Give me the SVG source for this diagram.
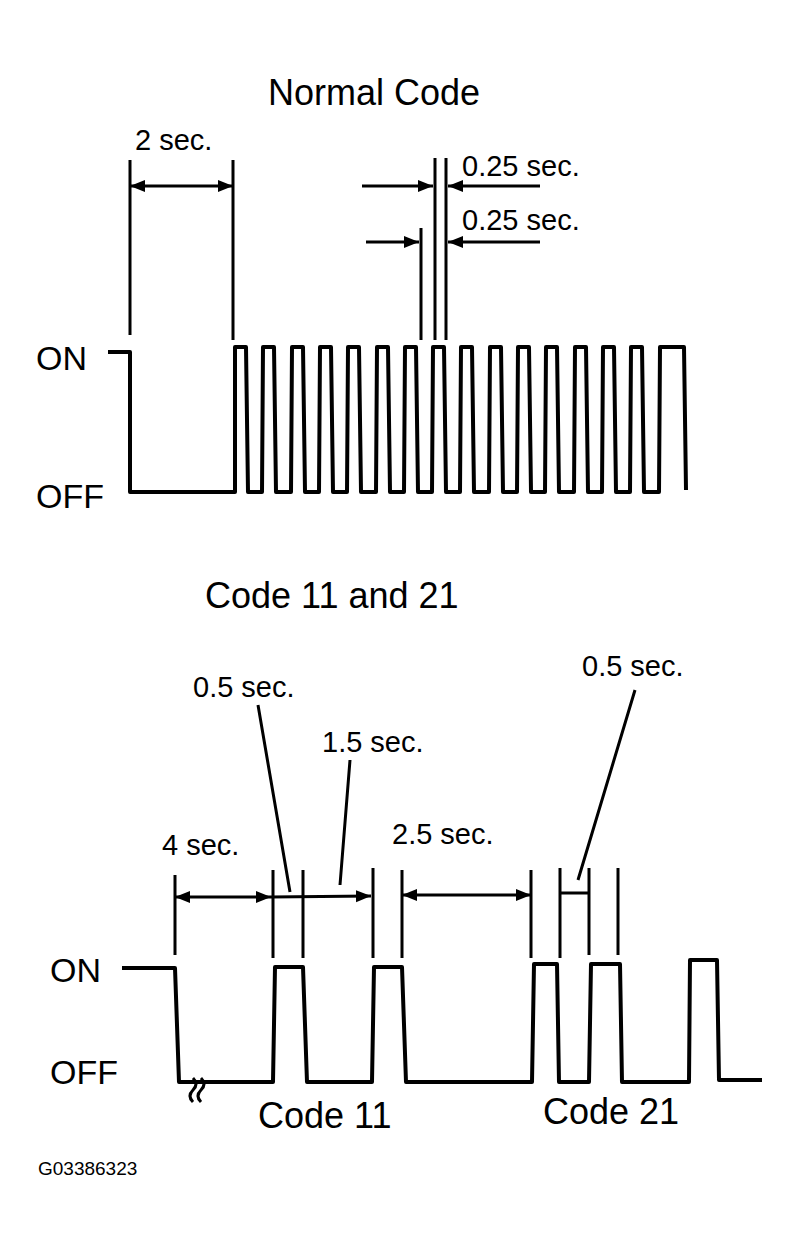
<svg xmlns="http://www.w3.org/2000/svg" width="800" height="1251" viewBox="0 0 800 1251">
<style>
text{font-family:"Liberation Sans",Arial,sans-serif;fill:#000;font-weight:500}
.t{font-size:36px}.l{font-size:34px}.d{font-size:29px}
.w{fill:none;stroke:#000;stroke-width:4;stroke-linejoin:round}
.e{fill:none;stroke:#000;stroke-width:3}
</style>
<defs>
<marker id="a" viewBox="0 0 10 10" refX="10" refY="5" markerWidth="5" markerHeight="5" orient="auto-start-reverse"><path d="M0,1 L10,5 L0,9 Z" fill="#000"/></marker>
</defs>
<rect width="800" height="1251" fill="#fff"/>
<text class="t" x="268" y="105">Normal Code</text>
<text class="d" x="135" y="150">2 sec.</text>
<text class="d" x="462" y="176">0.25 sec.</text>
<text class="d" x="462" y="230">0.25 sec.</text>
<text class="l" x="36" y="370">ON</text>
<text class="l" x="36" y="508">OFF</text>
<g id="ext1">
<path class="e" d="M130,160V335M233,160V340M421,228V340M435,158V340M446,158V340"/>
<line class="e" x1="130" y1="186" x2="233" y2="186" marker-start="url(#a)" marker-end="url(#a)"/>
<line class="e" x1="362" y1="186" x2="433" y2="186" marker-end="url(#a)"/>
<line class="e" x1="540" y1="186" x2="448" y2="186" marker-end="url(#a)"/>
<line class="e" x1="366" y1="242" x2="419" y2="242" marker-end="url(#a)"/>
<line class="e" x1="540" y1="242" x2="448" y2="242" marker-end="url(#a)"/>
</g>
<g id="wave1">
<path class="w" d="M108,352H130V492H235V347H246L248,492H262L263,347H274L276,492H291L292,347H303L305,492H319L320,347H331L333,492H347L348,347H359L361,492H376L377,347H388L390,492H404L405,347H416L418,492H432L433,347H444L446,492H460L461,347H472L474,492H489L490,347H501L503,492H517L518,347H529L531,492H545L546,347H557L559,492H574L575,347H586L588,492H602L603,347H614L616,492H630L631,347H642L644,492H659L660,347H684L686,490"/>
</g>
<text class="t" x="205" y="608">Code 11 and 21</text>
<text class="d" x="193" y="697">0.5 sec.</text>
<text class="d" x="322" y="752">1.5 sec.</text>
<text class="d" x="582" y="676">0.5 sec.</text>
<text class="d" x="162" y="855">4 sec.</text>
<text class="d" x="392" y="844">2.5 sec.</text>
<text class="l" x="50" y="982">ON</text>
<text class="l" x="50" y="1084">OFF</text>
<text class="t" x="258" y="1128">Code 11</text>
<text class="t" x="543" y="1124">Code 21</text>
<text x="38" y="1175" font-size="19">G03386323</text>
<g id="ext2">
<path class="e" d="M175,875V955M273,870V958M303,870V958M373,868V958M402,870V958M531,870V958M560,868V958M589,868V955M618,868V955M560,893H589"/>
<line class="e" x1="175" y1="897" x2="271" y2="897" marker-start="url(#a)" marker-end="url(#a)"/>
<line class="e" x1="271" y1="897" x2="371" y2="896" marker-end="url(#a)"/>
<line class="e" x1="402" y1="895" x2="531" y2="895" marker-start="url(#a)" marker-end="url(#a)"/>
<path class="e" d="M258,705L290,892M350,760L340,885M635,690L578,880"/>
</g>
<g id="wave2">
<path class="w" stroke-width="5" d="M122,968H175L179,1082H273L275,967H303L307,1082H372L374,967H402L406,1082H532L534,964H557L559,1082H589L591,964H620L622,1082H689L690,960H717L719,1080H762"/>
<path class="e" d="M193,1078q6,6 0,12q-6,6 0,12M201,1078q6,6 0,12q-6,6 0,12"/>
</g>
</svg>
